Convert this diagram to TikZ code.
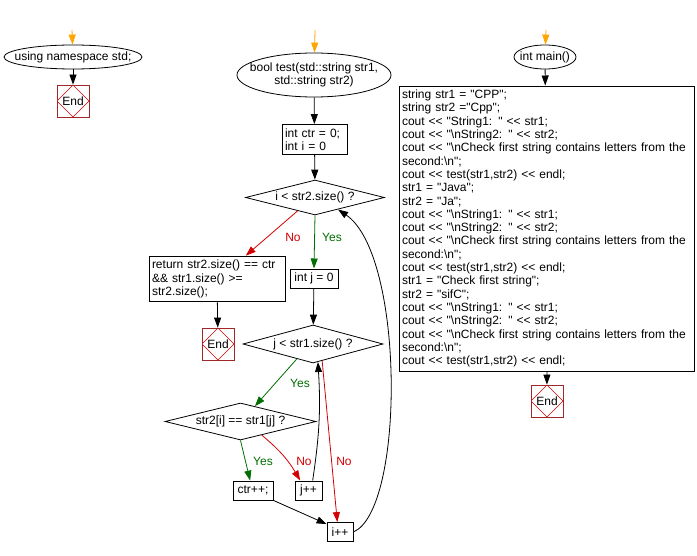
\documentclass[tikz,border=0pt]{standalone}
\usepackage{fontspec}
\setmainfont{Liberation Sans}[Ligatures=TeXOff]
\usetikzlibrary{arrows.meta,shapes.geometric,calc}

\definecolor{startorange}{RGB}{255,165,0}
\definecolor{yesgreen}{RGB}{0,110,0}
\definecolor{nored}{RGB}{210,0,0}
\definecolor{endred}{RGB}{160,40,40}

\newcommand{\bsn}{\textbackslash n}

\tikzset{
	box/.style={draw,rectangle,align=left,inner xsep=3pt,inner ysep=4pt,minimum height=19pt,line width=0.8pt},
	term/.style={draw,ellipse,inner sep=0pt,line width=0.8pt},
	cond/.style={draw,diamond,inner sep=0pt,line width=0.8pt},
	endbox/.style={draw=endred,rectangle,minimum size=32pt,inner sep=0pt,line width=0.8pt,
		path picture={\draw [nored,line width=0.6pt] (path picture bounding box.north) -- (path picture bounding box.east) -- (path picture bounding box.south) -- (path picture bounding box.west) -- cycle;}},
	flow/.style={-{Triangle[length=10pt,width=7pt]},line width=0.8pt}
}

\begin{document}
\begin{tikzpicture}[x=1pt,y=-1pt,font=\fontsize{12}{13.3}\selectfont]
	\useasboundingbox (0,0) rectangle (697,556);

	\coordinate (s1) at (72,30);
	\coordinate (s2) at (315,30);
	\coordinate (s3) at (546,30);

	\node [term,minimum width=138pt,minimum height=24pt,label=center:{using namespace std;}] (ns) at (73,57) {};
	\node [endbox] (e1) at (73,101) {End};

	\node [term,minimum width=154pt,minimum height=44pt,label={[align=center]center:{bool test(std::string str1,\\std::string str2)}}] (test) at (314,75) {};
	\node [box,text width=59pt] (init) at (314.5,139.5) {int ctr = 0;\\int i = 0};
	\node [cond,minimum width=139pt,minimum height=35pt,label=center:{i < str2.size() ?}] (ci) at (315,197.5) {};
	\node [box,text width=130pt] (ret) at (217,279) {return str2.size() == ctr\\\&\& str1.size() >=\\str2.size();};
	\node [endbox] (e2) at (218,344) {End};
	\node [box,minimum width=48pt] (jz) at (314,278.5) {int j = 0};
	\node [cond,minimum width=140pt,minimum height=38pt,label=center:{j < str1.size() ?}] (cj) at (313,344) {};
	\node [cond,minimum width=151pt,minimum height=37pt,label=center:{str2[i] == str1[j] ?}] (ce) at (240.5,421.5) {};
	\node [box,minimum width=40pt] (ctr) at (253,490.5) {ctr++;};
	\node [box,minimum width=27pt] (jpp) at (308.5,490.5) {j++};
	\node [box,minimum width=26pt] (ipp) at (340,532) {i++};

	\node [term,minimum width=62pt,minimum height=24pt,label=center:{int main()}] (main) at (545,57) {};
	\node [box,text width=289pt] (code) at (546.5,228.5) {string str1 = "CPP";\\
		string str2 ="Cpp";\\
		cout << "String1: " << str1;\\
		cout << "\bsn String2: " << str2;\\
		cout << "\bsn Check first string contains letters from the\\
		second:\bsn";\\
		cout << test(str1,str2) << endl;\\
		str1 = "Java";\\
		str2 = "Ja";\\
		cout << "\bsn String1: " << str1;\\
		cout << "\bsn String2: " << str2;\\
		cout << "\bsn Check first string contains letters from the\\
		second:\bsn";\\
		cout << test(str1,str2) << endl;\\
		str1 = "Check first string";\\
		str2 = "sifC";\\
		cout << "\bsn String1: " << str1;\\
		cout << "\bsn String2: " << str2;\\
		cout << "\bsn Check first string contains letters from the\\
		second:\bsn";\\
		cout << test(str1,str2) << endl;};
	\node [endbox] (e3) at (547,401) {End};

	\node [nored] (noi) at (293,237) {No};
	\node [yesgreen] (yesi) at (332,237) {Yes};
	\node [yesgreen] (yesj) at (300,383) {Yes};
	\node [yesgreen] (yese) at (263,461) {Yes};
	\node [nored] (noe) at (304,461) {No};
	\node [nored] (noj) at (344,461) {No};

	\draw [flow,startorange] (s1) -- (ns);
	\draw [flow] (ns) -- (e1);
	\draw [flow,startorange] (s2) -- (test);
	\draw [flow] (test) -- (init);
	\draw [flow] (init) -- (ci);
	\draw [flow,nored] ($(ci.south)!0.25!(ci.west)$) -- ($(ret.north west)!0.71!(ret.north east)$);
	\draw [flow,yesgreen] (ci.south) -- (jz.north);
	\draw [flow] (ret) -- (e2);
	\draw [flow] (jz) -- (cj);
	\draw [flow,yesgreen] ($(cj.south)!0.23!(cj.west)$) -- ($(ce.north)!0.19!(ce.east)$);
	\draw [flow,yesgreen] (ce.south) -- ($(ctr.north west)!0.43!(ctr.north east)$);
	\draw [flow,nored] ($(ce.south)!0.28!(ce.east)$) to [bend left=10] ($(jpp.north west)!0.2!(jpp.north east)$);
	\draw [flow] ($(jpp.north)!0.3!(jpp.north east)$) to [bend right=6] ($(cj.south)!0.07!(cj.east)$);
	\draw [flow,nored] ($(cj.south)!0.13!(cj.east)$) -- ($(ipp.north west)!0.4!(ipp.north east)$);
	\draw [flow] (ctr.south east) -- ($(ipp.north west)!0.1!(ipp.south west)$);
	\draw [flow] (ipp.east) .. controls (405,510) and (405,255) .. ($(ci.east)!0.67!(ci.south)$);
	\draw [flow,startorange] (s3) -- (main);
	\draw [flow] (main) -- (code);
	\draw [flow] (code) -- (e3);
\end{tikzpicture}
\end{document}
